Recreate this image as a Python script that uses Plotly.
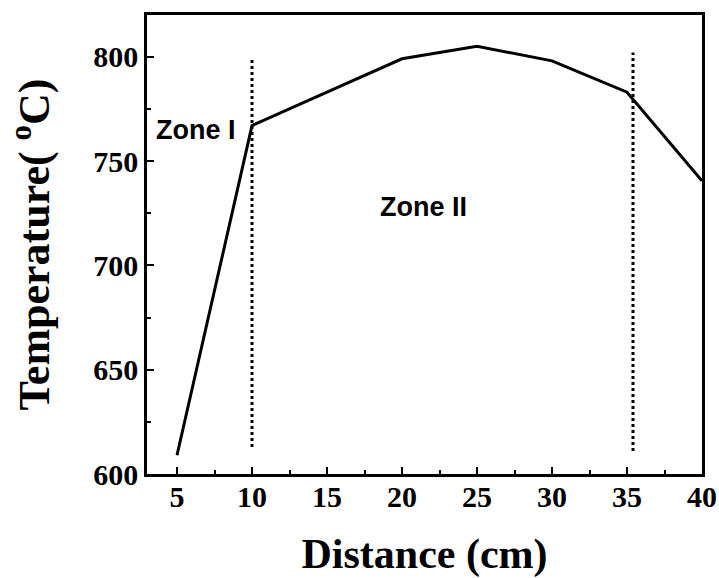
import plotly.graph_objects as go

distance = [5, 10, 15, 20, 25, 30, 35, 40]
temperature = [609, 767, 783, 799, 805, 798, 783, 740.5]

boundary_x = [10, 35.4]
boundary_y_top = [799, 802]
boundary_y_bottom = [613, 611]

zone_labels = ["Zone I", "Zone II"]
zone_label_x = [6.27, 21.4]
zone_label_y = [765, 728]

x_ticks = [5, 10, 15, 20, 25, 30, 35, 40]
y_ticks = [600, 650, 700, 750, 800]

fig = go.Figure()
fig.add_trace(go.Scatter(x=distance, y=temperature, mode="lines",
                         line=dict(color="black", width=3), showlegend=False))
for bx, yt, yb in zip(boundary_x, boundary_y_top, boundary_y_bottom):
    fig.add_trace(go.Scatter(x=[bx, bx], y=[yb, yt], mode="lines",
                             line=dict(color="black", width=3, dash="dot"),
                             showlegend=False))

for t, x, y in zip(zone_labels, zone_label_x, zone_label_y):
    fig.add_annotation(x=x, y=y, text=t, showarrow=False, xref="x", yref="y",
                       font=dict(family="Liberation Sans", size=27, color="black", weight="bold"))

serif = "Liberation Serif"
fig.update_xaxes(range=[3, 40], tickvals=x_ticks, ticks="inside", ticklen=7, tickwidth=2,
                 tickcolor="black", showline=True, linewidth=2.5, linecolor="black", mirror=True,
                 showgrid=False, zeroline=False, automargin=False, ticklabeloverflow="allow",
                 ticklabelstandoff=-6,
                 minor=dict(tickvals=[7.5, 12.5, 17.5, 22.5, 27.5, 32.5, 37.5], ticks="inside",
                            ticklen=4, tickwidth=2, tickcolor="black"),
                 tickfont=dict(family=serif, size=30, color="black", weight="bold"),
                 title=dict(text="Distance (cm)", standoff=31,
                            font=dict(family=serif, size=42, color="black", weight="bold")))
fig.update_yaxes(range=[600, 820], tickvals=y_ticks, ticks="inside", ticklen=7, tickwidth=2,
                 tickcolor="black", showline=True, linewidth=2.5, linecolor="black", mirror=True,
                 showgrid=False, zeroline=False, automargin=False, ticklabeloverflow="allow",
                 ticklabelstandoff=0,
                 minor=dict(tickvals=[625, 675, 725, 775], ticks="inside",
                            ticklen=4, tickwidth=2, tickcolor="black"),
                 tickfont=dict(family=serif, size=30, color="black", weight="bold"),
                 title=dict(text="Temperature( <sup>o</sup>C)", standoff=30,
                            font=dict(family=serif, size=44, color="black", weight="bold")))
fig.update_layout(width=719, height=578, margin=dict(l=147, r=17, t=15, b=104),
                  plot_bgcolor="white", paper_bgcolor="white")
fig.write_html("out.html")
